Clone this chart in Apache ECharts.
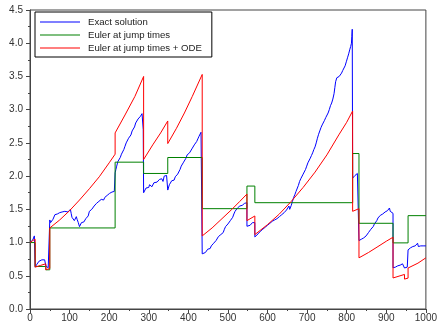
<!DOCTYPE html>
<html>
<head>
<meta charset="utf-8">
<script src="https://cdn.jsdelivr.net/npm/echarts@6/dist/echarts.min.js"></script>
<style>html,body{margin:0;padding:0;background:#fff;}#c{width:440px;height:324px;}</style>
</head>
<body>
<div id="c"></div>
<script>
const seriesNames = ['Exact solution', 'Euler at jump times', 'Euler at jump times + ODE'];

const exactPoints = [
[0,1.0],[3,1.02],[5,1.0],[7,1.04],[9,1.06],[11,1.1],[12,1.08],[13,1.09],
[13,0.63],[15,0.64],[17,0.67],[19,0.69],[21,0.70],[23,0.72],[25,0.71],[27,0.73],[30,0.74],[32,0.73],[35,0.75],[37,0.74],[39,0.76],[40,0.75],
[40,0.65],[42,0.64],[44,0.63],[46,0.62],[48,0.64],[50,0.65],
[50,1.34],[52,1.30],[54,1.28],[56,1.33],[58,1.35],[61,1.38],[63,1.42],[66,1.40],[69,1.43],[72,1.44],[75,1.45],[78,1.43],[81,1.46],[85,1.45],[88,1.47],[92,1.47],[96,1.46],[100,1.49],[102,1.50],[104,1.44],[106,1.38],[108,1.36],[110,1.40],[112,1.33],[115,1.36],[117,1.39],[119,1.35],[122,1.30],[125,1.24],[127,1.26],[130,1.30],[133,1.33],[136,1.31],[138,1.34],[141,1.36],[144,1.35],[147,1.40],[150,1.47],[153,1.49],[156,1.50],[159,1.53],[162,1.55],[165,1.57],[168,1.59],[171,1.58],[174,1.62],[177,1.63],[180,1.65],[183,1.66],[186,1.64],[189,1.68],[192,1.70],[195,1.71],[198,1.72],[201,1.74],[204,1.73],[207,1.76],[210,1.78],[213,1.77],[215,1.80],
[215,2.05],[217,2.10],[219,2.15],[222,2.22],[225,2.25],[228,2.28],[231,2.33],[234,2.36],[237,2.40],[240,2.45],[243,2.50],[246,2.52],[249,2.57],[252,2.60],[255,2.62],[258,2.68],[261,2.70],[264,2.74],[267,2.80],[270,2.82],[273,2.86],[276,2.88],[279,2.90],[281,2.88],[283,2.94],[285,2.92],[286,2.70],[287,2.72],
[287,1.75],[289,1.78],[291,1.76],[293,1.82],[295,1.84],[297,1.85],[300,1.83],[302,1.87],[305,1.86],[308,1.84],[310,1.87],[313,1.90],[316,1.88],[318,1.92],[321,1.91],[324,1.89],[327,1.95],[330,1.94],[333,1.96],[336,1.92],[339,2.0],[342,1.98],[345,2.01],[347,2.04],[348,2.03],
[348,1.79],[350,1.82],[352,1.87],[355,1.89],[358,1.93],[361,1.95],[364,1.94],[367,1.99],[370,2.01],[373,2.03],[376,2.06],[379,2.10],[382,2.15],[385,2.17],[388,2.21],[391,2.24],[394,2.27],[397,2.32],[400,2.33],[403,2.35],[406,2.38],[409,2.41],[412,2.44],[415,2.47],[418,2.50],[421,2.52],[424,2.56],[427,2.60],[430,2.62],[432,2.66],[434,2.68],[435,2.65],
[435,0.83],[437,0.84],[440,0.86],[443,0.85],[446,0.88],[449,0.90],[452,0.92],[455,0.91],[458,0.95],[461,0.97],[464,0.99],[467,1.01],[470,1.03],[473,1.06],[476,1.09],[479,1.10],[482,1.12],[485,1.11],[488,1.15],[491,1.20],[494,1.24],[497,1.26],[500,1.28],[503,1.29],[506,1.33],[509,1.36],[512,1.38],[515,1.43],[518,1.47],[521,1.50],[524,1.52],[527,1.54],[530,1.55],[533,1.57],[536,1.56],[539,1.58],[542,1.59],[545,1.60],[548,1.60],
[548,1.245],[550,1.25],[553,1.27],[556,1.26],[559,1.29],[562,1.30],[565,1.29],[568,1.30],
[568,1.085],[570,1.09],[573,1.11],[576,1.13],[579,1.15],[582,1.17],[585,1.19],[588,1.20],[591,1.22],[594,1.23],[597,1.24],[600,1.26],[603,1.27],[606,1.29],[609,1.30],[612,1.32],[615,1.33],[618,1.34],[621,1.35],[624,1.36],[627,1.38],[630,1.39],[633,1.40],[636,1.42],[639,1.44],[642,1.45],[645,1.47],[648,1.49],[651,1.52],[654,1.55],[656,1.50],[658,1.49],[660,1.56],[663,1.62],[666,1.68],[669,1.72],[672,1.77],[675,1.80],[678,1.86],[681,1.92],[684,1.96],[687,1.99],[690,2.03],[693,2.06],[696,2.10],[699,2.15],[702,2.20],[705,2.23],[708,2.27],[711,2.31],[714,2.35],[717,2.40],[720,2.44],[723,2.50],[726,2.57],[729,2.63],[732,2.68],[735,2.73],[738,2.77],[741,2.80],[744,2.84],[747,2.88],[750,2.90],[753,2.95],[756,3.00],[759,3.06],[762,3.10],[765,3.16],[768,3.24],[770,3.33],[772,3.42],[775,3.48],[778,3.47],[781,3.50],[784,3.53],[787,3.55],[790,3.59],[793,3.62],[796,3.66],[799,3.72],[802,3.78],[805,3.84],[808,3.91],[810,3.95],[812,4.00],[813,4.10],[814,4.21],[815,4.19],
[815,1.97],[818,1.99],[821,2.01],[824,2.00],[827,2.04],[829,2.03],[831,2.06],
[831,1.03],[834,1.04],[837,1.05],[840,1.06],[843,1.07],[846,1.08],[849,1.10],[852,1.12],[855,1.15],[858,1.18],[861,1.20],[864,1.22],[867,1.24],[870,1.28],[873,1.30],[876,1.33],[879,1.37],[882,1.39],[885,1.41],[888,1.42],[891,1.43],[894,1.44],[897,1.46],[900,1.47],[903,1.48],[906,1.50],[908,1.52],[910,1.47],[912,1.46],[915,1.45],[917,1.44],
[917,0.62],[920,0.62],[923,0.63],[926,0.64],[929,0.65],[932,0.64],[935,0.66],[938,0.67],[941,0.68],[944,0.69],[946,0.69],
[946,0.617],[950,0.62],[953,0.63],[955,0.63],
[955,0.89],[958,0.89],[961,0.92],[964,0.91],[967,0.94],[970,0.96],[973,0.95],[976,0.98],[979,0.99],[981,0.94],[984,0.96],[987,0.95],[990,0.93],[993,0.95],[996,0.96],[1000,0.95]
];

const eulerPoints = [
[0,1.0],[13,1.0],[13,0.64],[40,0.64],[40,0.59],[50,0.59],[50,1.22],[215,1.22],[215,2.21],[287,2.21],[287,2.04],[348,2.04],[348,2.28],[435,2.28],[435,1.51],[548,1.51],[548,1.85],[568,1.85],[568,1.60],[815,1.60],[815,2.34],[831,2.34],[831,1.29],[917,1.29],[917,0.995],[955,0.995],[955,1.405],[1000,1.405]
];

const odePoints = [
[0,1.0],[7,1.03],[13,1.05],
[13,0.63],[26,0.655],[40,0.68],
[40,0.59],[50,0.61],
[50,1.22],[75,1.34],[100,1.48],[125,1.64],[150,1.81],[175,1.99],[200,2.2],[215,2.33],
[215,2.65],[240,2.92],[265,3.2],[287,3.5],
[287,2.25],[310,2.47],[330,2.65],[348,2.83],
[348,2.49],[370,2.72],[390,2.95],[410,3.2],[435,3.53],
[435,1.10],[460,1.22],[485,1.36],[510,1.5],[530,1.62],[548,1.73],
[548,1.33],[568,1.40],
[568,1.12],[600,1.27],[630,1.43],[660,1.62],[690,1.83],[720,2.06],[750,2.32],[780,2.62],[800,2.81],[815,2.98],
[815,1.47],[831,1.51],
[831,0.77],[855,0.85],[879,0.94],[900,1.02],[917,1.08],
[917,0.467],[946,0.52],
[946,0.45],[955,0.465],
[955,0.617],[980,0.69],[1000,0.77]
];

const colors = ['#0000ff', '#008000', '#ff0000'];

const chart = echarts.init(document.getElementById('c'), null, {renderer: 'canvas'});
const axisColor = '#444';
const labelStyle = {color: '#333', fontFamily: 'Liberation Sans', fontSize: 10};

chart.setOption({
  animation: false,
  backgroundColor: '#fff',
  grid: {left: 30, right: 12, top: 10, bottom: 15, show: true, borderColor: axisColor, borderWidth: 1, containLabel: false},
  legend: {
    orient: 'vertical', left: 35, top: 12,
    data: seriesNames,
    icon: 'rect', itemWidth: 40, itemHeight: 1.2, itemGap: 3,
    backgroundColor: '#fff', borderColor: '#000', borderWidth: 1,
    padding: [5, 10, 4, 5],
    textStyle: {color: '#222', fontFamily: 'Liberation Sans', fontSize: 9.6, padding: [0, 0, 0, 3]}
  },
  xAxis: {
    type: 'value', min: 0, max: 1000, interval: 100,
    axisLine: {show: true, lineStyle: {color: axisColor}},
    axisTick: {show: true, inside: false, length: 4, lineStyle: {color: axisColor}},
    minorTick: {show: true, splitNumber: 2, length: 2, lineStyle: {color: axisColor}},
    splitLine: {show: false},
    axisLabel: Object.assign({margin: 4, formatter: v => String(v)}, labelStyle)
  },
  yAxis: {
    type: 'value', min: 0, max: 4.5, interval: 0.5,
    axisLine: {show: true, lineStyle: {color: axisColor}},
    axisTick: {show: true, inside: false, length: 4, lineStyle: {color: axisColor}},
    minorTick: {show: true, splitNumber: 2, length: 2, lineStyle: {color: axisColor}},
    splitLine: {show: false},
    axisLabel: Object.assign({margin: 7, formatter: v => v.toFixed(1)}, labelStyle)
  },
  series: [
    {name: seriesNames[0], type: 'line', data: exactPoints, showSymbol: false, symbol: 'none', lineStyle: {color: colors[0], width: 1}, itemStyle: {color: colors[0]}},
    {name: seriesNames[1], type: 'line', data: eulerPoints, showSymbol: false, symbol: 'none', lineStyle: {color: colors[1], width: 1}, itemStyle: {color: colors[1]}},
    {name: seriesNames[2], type: 'line', data: odePoints, showSymbol: false, symbol: 'none', lineStyle: {color: colors[2], width: 1}, itemStyle: {color: colors[2]}}
  ]
});
</script>
</body>
</html>
